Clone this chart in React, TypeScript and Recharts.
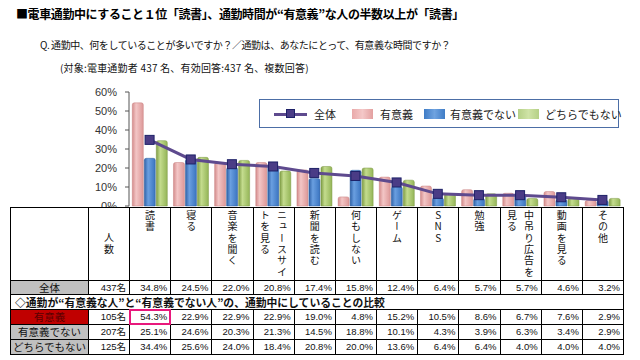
import React from 'react';
import { ComposedChart, Bar, Line, XAxis, YAxis, Legend } from 'recharts';

const categories = ['読書', '寝る', '音楽を聞く', 'ニュースサイトを見る', '新聞を読む', '何もしない', 'ゲーム', 'SNS', '勉強', '中吊り広告を見る', '動画を見る', 'その他'];
// header cells break the long labels into two vertical columns
const headerLines = [['読書'], ['寝る'], ['音楽を聞く'], ['ニュースサイ', 'トを見る'], ['新聞を読む'], ['何もしない'], ['ゲーム'], ['SNS'], ['勉強'], ['中吊り広告を', '見る'], ['動画を見る'], ['その他']];

const groupNames = ['全体', '有意義', '有意義でない', 'どちらでもない'];
const groupCounts = [437, 105, 207, 125];

const allValues = [34.8, 24.5, 22.0, 20.8, 17.4, 15.8, 12.4, 6.4, 5.7, 5.7, 4.6, 3.2];
const meaningfulValues = [54.3, 22.9, 22.9, 22.9, 19.0, 4.8, 15.2, 10.5, 8.6, 6.7, 7.6, 2.9];
const notMeaningfulValues = [25.1, 24.6, 20.3, 21.3, 14.5, 18.8, 10.1, 4.3, 3.9, 6.3, 3.4, 2.9];
const neitherValues = [34.4, 25.6, 24.0, 18.4, 20.8, 20.0, 13.6, 6.4, 6.4, 4.0, 4.0, 4.0];

const yTicks = [0, 10, 20, 30, 40, 50, 60];

const chartData = categories.map((name, i) => ({
  name,
  全体: allValues[i],
  有意義: meaningfulValues[i],
  有意義でない: notMeaningfulValues[i],
  どちらでもない: neitherValues[i],
}));

const rowValues = [allValues, meaningfulValues, notMeaningfulValues, neitherValues];

const JP = '"Noto Sans CJK JP", sans-serif';
const NUM = '"Liberation Sans", "Noto Sans CJK JP", sans-serif';

const LINE_COLOR = '#5E4A8E';

const SquareDot: React.FC<any> = ({ cx, cy }) => {
  if (cx == null || cy == null) return null;
  return <rect x={cx - 4.5} y={cy - 4.5} width={9} height={9} fill="#4A3C86" stroke="#1E2168" strokeWidth={1} />;
};

const swatch = (bg: string, left: number): React.CSSProperties => ({ position: 'absolute', left, top: 9, width: 21, height: 10, background: bg });
const legendText: React.CSSProperties = { position: 'absolute', top: 7, fontSize: 11, lineHeight: '14px', fontFamily: JP, color: '#222', whiteSpace: 'nowrap' };

const renderLegend = () => (
  <div style={{ position: 'relative', width: 360, height: 29, border: '1px solid #4C6EA6', boxSizing: 'border-box', background: '#fff' }}>
    <div style={{ position: 'absolute', left: 14, top: 13, width: 33, height: 3, background: LINE_COLOR }} />
    <div style={{ position: 'absolute', left: 26, top: 9, width: 9, height: 9, background: '#4A3C86', border: '1px solid #1E2168', boxSizing: 'border-box' }} />
    <div style={{ ...legendText, left: 54 }}>全体</div>
    <div style={swatch('linear-gradient(90deg,#e9a9a9,#f4c8c8,#e3a0a0)', 92)} />
    <div style={{ ...legendText, left: 120 }}>有意義</div>
    <div style={swatch('linear-gradient(90deg,#3f7cc6,#6fa3e0,#3f7cc6)', 164)} />
    <div style={{ ...legendText, left: 190 }}>有意義でない</div>
    <div style={swatch('linear-gradient(90deg,#b5d086,#cfe3a6,#b5d086)', 258)} />
    <div style={{ ...legendText, left: 285 }}>どちらでもない</div>
  </div>
);

const cellBase: React.CSSProperties = { background: '#fff', boxSizing: 'border-box', overflow: 'hidden' };

const valueCell: React.CSSProperties = {
  ...cellBase,
  fontFamily: NUM,
  fontSize: 9.5,
  lineHeight: '14px',
  textAlign: 'right',
  paddingRight: 3,
  color: '#111',
};

const labelBg = ['#c0c0c0', '#c00000', '#c0c0c0', '#c0c0c0'];
const labelColor = ['#111', '#5a0000', '#111', '#111'];

const DataTable: React.FC = () => {
  const rowCells = (g: number) => [
    <div key={`l${g}`} style={{ ...cellBase, background: labelBg[g], color: labelColor[g], fontFamily: JP, fontSize: 10.5, lineHeight: '14px', textAlign: 'center', whiteSpace: 'nowrap' }}>
      {groupNames[g]}
    </div>,
    <div key={`c${g}`} style={valueCell}>{`${groupCounts[g]}名`}</div>,
    ...rowValues[g].map((v, i) => (
      <div
        key={`v${g}-${i}`}
        style={g === 1 && i === 0 ? { ...valueCell, outline: '2px solid #e8187c', outlineOffset: -1, position: 'relative', zIndex: 1 } : valueCell}
      >
        {`${v.toFixed(1)}%`}
      </div>
    )),
  ];

  return (
    <div
      style={{
        position: 'absolute',
        left: 10,
        top: 207,
        width: 614,
        display: 'grid',
        gridTemplateColumns: '77px 40px repeat(12, 1fr)',
        gridTemplateRows: '72px 13px 14px 14px 14px 14px',
        gap: 1,
        padding: 1,
        background: '#000',
        boxSizing: 'border-box',
      }}
    >
      <div style={cellBase} />
      <div style={{ ...cellBase, display: 'flex', alignItems: 'center', justifyContent: 'center' }}>
        <div style={{ writingMode: 'vertical-rl', fontFamily: JP, fontSize: 10, letterSpacing: 2, color: '#111' }}>人数</div>
      </div>
      {headerLines.map((lines, i) => (
        <div key={`h${i}`} style={{ ...cellBase, display: 'flex', justifyContent: 'center', paddingTop: 2 }}>
          <div style={{ writingMode: 'vertical-rl', textOrientation: 'upright', whiteSpace: 'nowrap', fontFamily: JP, fontSize: 10, lineHeight: '17px', letterSpacing: 1.4, color: '#111' }}>
            {lines.map((t, k) => (
              <React.Fragment key={k}>
                {k > 0 && <br />}
                {t}
              </React.Fragment>
            ))}
          </div>
        </div>
      ))}
      {rowCells(0)}
      <div style={{ ...cellBase, gridColumn: '1 / -1', fontFamily: JP, fontSize: 10.8, fontWeight: 700, lineHeight: '14px', paddingLeft: 4, whiteSpace: 'nowrap', color: '#111' }}>
        ◇通勤が“有意義な人”と“有意義でない人”の、通勤中にしていることの比較
      </div>
      {rowCells(1)}
      {rowCells(2)}
      {rowCells(3)}
    </div>
  );
};

export default function App() {
  return (
    <div style={{ position: 'absolute', left: 0, top: 0, width: 640, height: 360, background: '#fff', overflow: 'hidden' }}>
      <div style={{ position: 'absolute', left: 16, top: 6, fontFamily: JP, fontSize: 12, fontWeight: 700, lineHeight: '16px', letterSpacing: -0.4, whiteSpace: 'nowrap', color: '#000' }}>
        ■電車通勤中にすること１位「読書」、通勤時間が“有意義”な人の半数以上が「読書」
      </div>
      <div style={{ position: 'absolute', left: 40, top: 38, fontFamily: JP, fontSize: 10, lineHeight: '14px', letterSpacing: -0.45, whiteSpace: 'nowrap', color: '#111' }}>
        Q. 通勤中、何をしていることが多いですか？／通勤は、あなたにとって、有意義な時間ですか？
      </div>
      <div style={{ position: 'absolute', left: 60, top: 61, fontFamily: JP, fontSize: 10, lineHeight: '14px', letterSpacing: 0.2, whiteSpace: 'nowrap', color: '#111' }}>
        (対象:電車通勤者 437 名、有効回答:437 名、複数回答)
      </div>

      <div style={{ position: 'absolute', left: 0, top: 0 }}>
        <ComposedChart width={640} height={220} data={chartData} margin={{ top: 92, right: 17, bottom: 14, left: 69 }} barCategoryGap="8%" barGap={1}>
          <defs>
            <linearGradient id="gPink" x1="0" y1="0" x2="1" y2="0">
              <stop offset="0%" stopColor="#d48c8c" />
              <stop offset="35%" stopColor="#f3c6c6" />
              <stop offset="100%" stopColor="#dd9898" />
            </linearGradient>
            <linearGradient id="gBlue" x1="0" y1="0" x2="1" y2="0">
              <stop offset="0%" stopColor="#2f62a8" />
              <stop offset="35%" stopColor="#6a9fe0" />
              <stop offset="100%" stopColor="#3a74c0" />
            </linearGradient>
            <linearGradient id="gGreen" x1="0" y1="0" x2="1" y2="0">
              <stop offset="0%" stopColor="#7f9d45" />
              <stop offset="35%" stopColor="#c4dc8e" />
              <stop offset="100%" stopColor="#94b557" />
            </linearGradient>
          </defs>
          <XAxis dataKey="name" hide />
          <YAxis
            width={60}
            domain={[0, 60]}
            ticks={yTicks}
            tickFormatter={(v) => `${v}%`}
            tick={{ fontSize: 11, fill: '#333', fontFamily: NUM }}
            tickSize={4}
            tickMargin={8}
            axisLine={{ stroke: '#555' }}
            tickLine={{ stroke: '#555' }}
            interval={0}
          />
          <Legend layout="horizontal" verticalAlign="middle" align="center" content={renderLegend} wrapperStyle={{ left: 259, top: 99, width: 360, height: 29 }} />
          <Bar dataKey="有意義" fill="url(#gPink)" stroke="#c98080" strokeWidth={0.5} radius={[2, 2, 0, 0]} isAnimationActive={false} />
          <Bar dataKey="有意義でない" fill="url(#gBlue)" stroke="#2b5a9a" strokeWidth={0.5} radius={[2, 2, 0, 0]} isAnimationActive={false} />
          <Bar dataKey="どちらでもない" fill="url(#gGreen)" stroke="#7a9640" strokeWidth={0.5} radius={[2, 2, 0, 0]} isAnimationActive={false} />
          <Line dataKey="全体" type="linear" stroke={LINE_COLOR} strokeWidth={3} dot={<SquareDot />} activeDot={false} isAnimationActive={false} />
        </ComposedChart>
      </div>

      <DataTable />
    </div>
  );
}
